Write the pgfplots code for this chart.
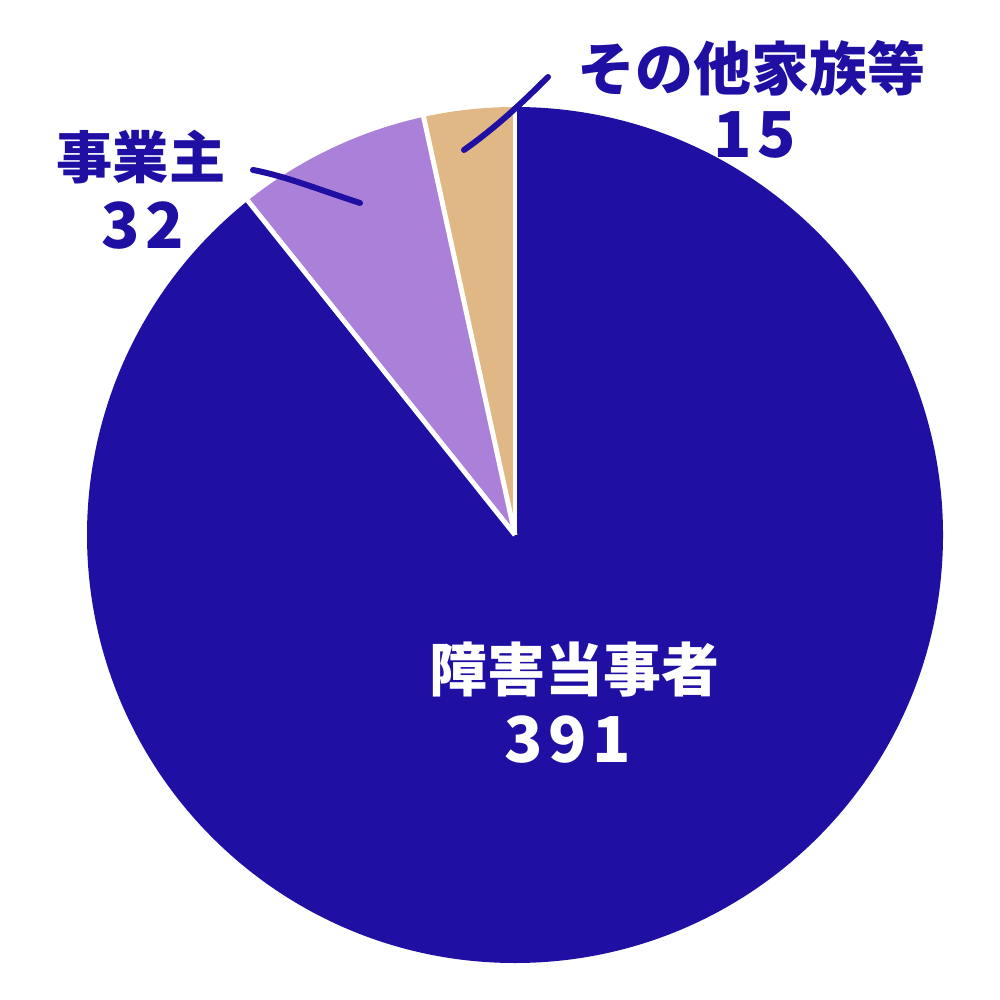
\documentclass[border=0pt]{standalone}
\usepackage{pgfplots}
\pgfplotsset{compat=1.18}
\usepackage{fontspec}
\newfontfamily\cjk{Noto Sans CJK JP}
\newfontfamily\cjkd[LetterSpace=9]{Noto Sans CJK JP}
\definecolor{pblue}{HTML}{1F0FA3}
\definecolor{ppurple}{HTML}{AB80D8}
\definecolor{ptan}{HTML}{E0B886}
\begin{document}
\begin{tikzpicture}
% values: 障害当事者 391, 事業主 32, その他家族等 15
\pgfmathsetmacro\total{391+32+15}
\pgfmathsetmacro\aA{90-391/\total*360}
\pgfmathsetmacro\aB{\aA-32/\total*360}
\pgfmathsetmacro\aC{\aB-15/\total*360}
\begin{axis}[
  scale only axis, width=10cm, height=10cm,
  xmin=0, xmax=1000, ymin=0, ymax=1000, y dir=reverse,
  hide axis, clip=false]
\coordinate (tl) at (axis cs:0,0);
\coordinate (br) at (axis cs:1000,1000);
\fill[pblue] (axis cs:515,535) -- ++(90:4.28cm)
  arc[start angle=90, end angle=\aA, radius=4.28cm] -- cycle;
\fill[ppurple] (axis cs:515,535) -- ++(\aA:4.28cm)
  arc[start angle=\aA, end angle=\aB, radius=4.28cm] -- cycle;
\fill[ptan] (axis cs:515,535) -- ++(\aB:4.28cm)
  arc[start angle=\aB, end angle=\aC, radius=4.28cm] -- cycle;
\draw[white, line width=1.4pt] (axis cs:515,535) -- ++(90:4.29cm);
\draw[white, line width=1.4pt] (axis cs:515,535) -- ++(\aA:4.29cm);
\draw[white, line width=1.4pt] (axis cs:515,535) -- ++(\aB:4.29cm);
% leader lines
\draw[pblue, line width=1.7pt, line cap=round]
  (axis cs:253,170) .. controls (axis cs:285,176) and (axis cs:320,190) .. (axis cs:360,203);
\draw[pblue, line width=1.7pt, line cap=round]
  (axis cs:548,77) .. controls (axis cs:520,105) and (axis cs:495,128) .. (axis cs:464,150);
% labels
\node[pblue, font=\cjk\bfseries\fontsize{16.5}{18}\selectfont] at (axis cs:751,68) {その他家族等};
\node[pblue, font=\cjkd\bfseries\fontsize{18}{20}\selectfont] at (axis cs:755,135) {15};
\node[pblue, font=\cjk\bfseries\fontsize{16}{18}\selectfont] at (axis cs:141,157) {事業主};
\node[pblue, font=\cjkd\bfseries\fontsize{18}{20}\selectfont] at (axis cs:143,226) {32};
\node[white, font=\cjk\bfseries\fontsize{16.5}{18}\selectfont] at (axis cs:574,670) {障害当事者};
\node[white, font=\cjkd\bfseries\fontsize{18}{20}\selectfont] at (axis cs:568,740) {391};
\end{axis}
\pgfresetboundingbox
\path (tl) rectangle (br);
\end{tikzpicture}
\end{document}
